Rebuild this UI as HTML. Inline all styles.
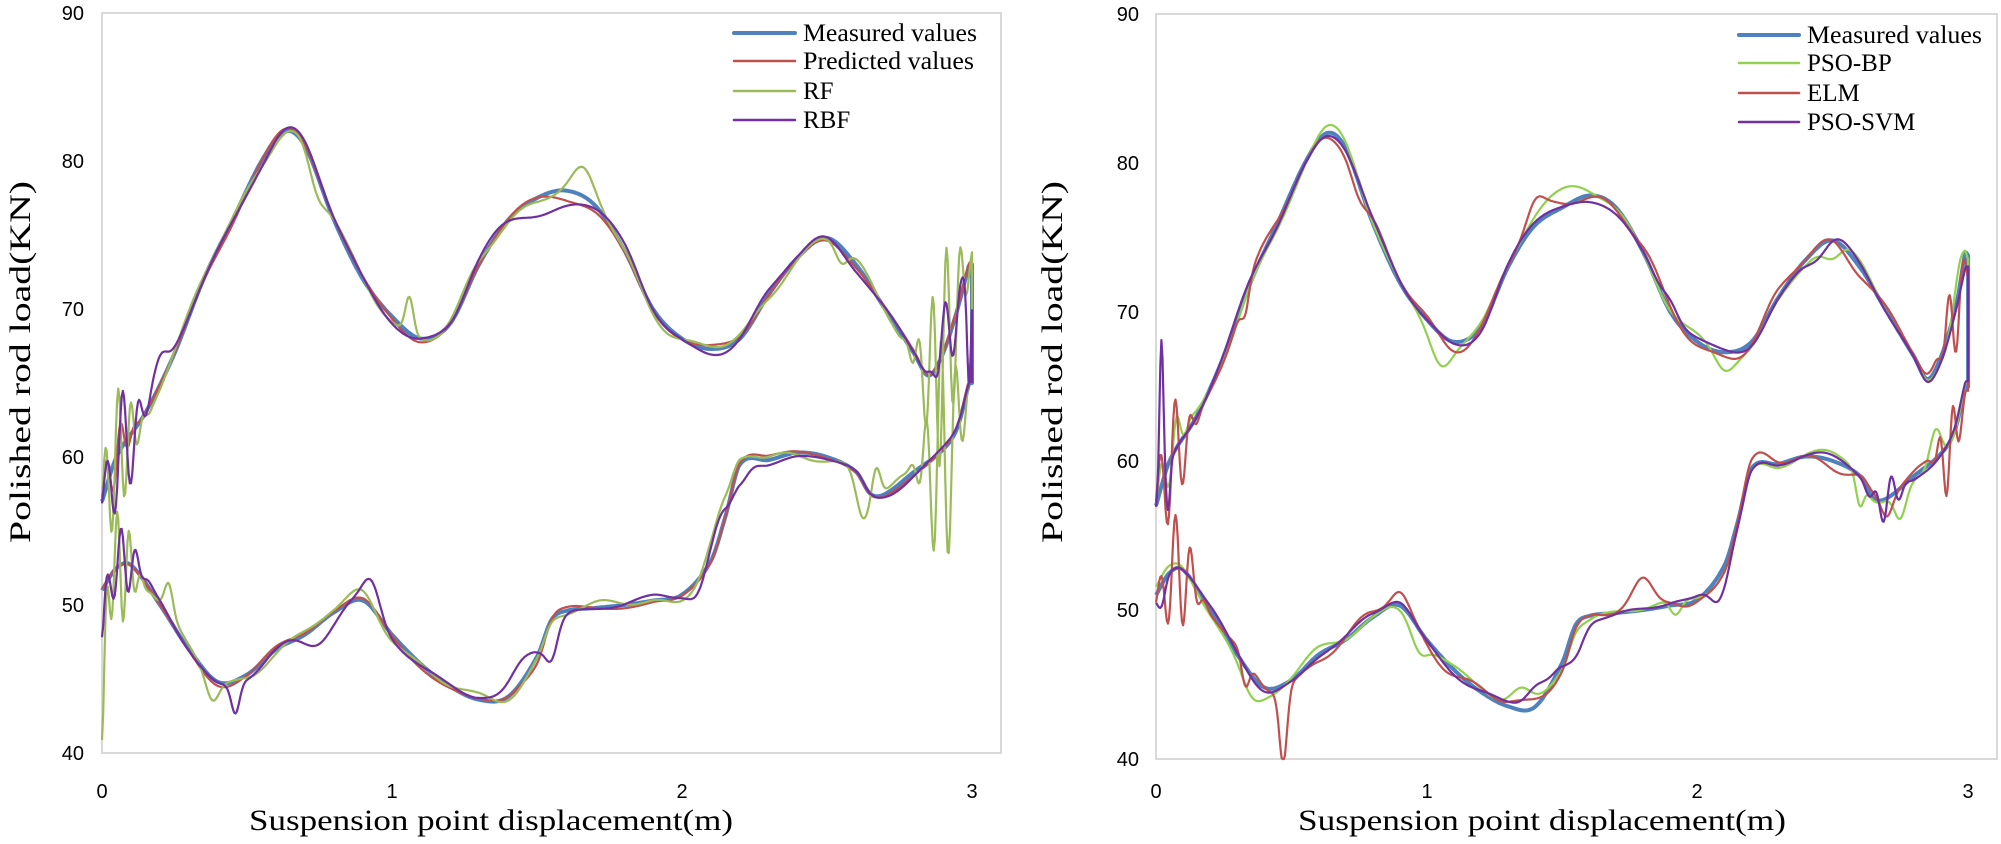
<!DOCTYPE html>
<html><head><meta charset="utf-8">
<style>
html,body{margin:0;padding:0;background:#fff;}
svg{display:block;}
.tk{font-family:"Liberation Sans",sans-serif;font-size:20px;fill:#000;}
.lg{font-family:"Liberation Serif",serif;font-size:25px;fill:#000;}
.ti{font-family:"Liberation Serif",serif;font-size:30px;fill:#000;}
</style></head>
<body>
<svg id="s" width="2001" height="844" viewBox="0 0 2001 844" xmlns="http://www.w3.org/2000/svg">
<rect width="2001" height="844" fill="#fff"/>
<!-- left frame -->
<rect x="102" y="13" width="899" height="740" fill="none" stroke="#d9d9d9" stroke-width="2"/>
<rect x="1156" y="14" width="841" height="745" fill="none" stroke="#d9d9d9" stroke-width="2"/>
<g class="tk" text-anchor="end">
<text x="84" y="20">90</text><text x="84" y="168">80</text><text x="84" y="316">70</text><text x="84" y="464">60</text><text x="84" y="612">50</text><text x="84" y="760">40</text>
<text x="1139" y="21">90</text><text x="1139" y="170">80</text><text x="1139" y="319">70</text><text x="1139" y="468">60</text><text x="1139" y="617">50</text><text x="1139" y="766">40</text>
</g>
<g class="tk" text-anchor="middle">
<text x="102" y="798">0</text><text x="392" y="798">1</text><text x="682" y="798">2</text><text x="972" y="798">3</text>
<text x="1156" y="798">0</text><text x="1427" y="798">1</text><text x="1697" y="798">2</text><text x="1968" y="798">3</text>
</g>
<text class="ti" x="491" y="830" text-anchor="middle" textLength="484" lengthAdjust="spacingAndGlyphs">Suspension point displacement(m)</text>
<text class="ti" x="1542" y="830" text-anchor="middle" textLength="488" lengthAdjust="spacingAndGlyphs">Suspension point displacement(m)</text>
<text class="ti" transform="translate(30,362) rotate(-90)" text-anchor="middle" textLength="362" lengthAdjust="spacingAndGlyphs">Polished rod load(KN)</text>
<text class="ti" transform="translate(1062,362) rotate(-90)" text-anchor="middle" textLength="362" lengthAdjust="spacingAndGlyphs">Polished rod load(KN)</text>
<g id="curves"></g>
<!-- legends -->
<g stroke-linecap="round">
<line x1="734" y1="33" x2="795" y2="33" stroke="#4f81bd" stroke-width="4"/>
<line x1="734" y1="61" x2="795" y2="61" stroke="#c0504d" stroke-width="2.5"/>
<line x1="734" y1="91" x2="795" y2="91" stroke="#9bbb59" stroke-width="2.5"/>
<line x1="734" y1="120" x2="795" y2="120" stroke="#7030a0" stroke-width="2.5"/>
<line x1="1739" y1="35" x2="1799" y2="35" stroke="#4f81bd" stroke-width="4"/>
<line x1="1739" y1="63" x2="1799" y2="63" stroke="#92d050" stroke-width="2.5"/>
<line x1="1739" y1="93" x2="1799" y2="93" stroke="#c0504d" stroke-width="2.5"/>
<line x1="1739" y1="122" x2="1799" y2="122" stroke="#7030a0" stroke-width="2.5"/>
</g>
<g class="lg">
<text x="803" y="41" textLength="174" lengthAdjust="spacingAndGlyphs">Measured values</text>
<text x="803" y="69" textLength="171" lengthAdjust="spacingAndGlyphs">Predicted values</text>
<text x="803" y="99">RF</text>
<text x="803" y="128">RBF</text>
<text x="1807" y="43" textLength="175" lengthAdjust="spacingAndGlyphs">Measured values</text>
<text x="1807" y="71">PSO-BP</text>
<text x="1807" y="101">ELM</text>
<text x="1807" y="130">PSO-SVM</text>
</g>
</svg>
<script>
(function(){
var UP=[[0,57],[0.05,60],[0.15,63],[0.25,67],[0.35,72],[0.45,76],[0.55,80],[0.63,82],[0.7,81],[0.8,76],[0.9,72],[1.0,69.5],[1.1,68],[1.2,69],[1.3,73],[1.4,76],[1.5,77.5],[1.6,78],[1.7,77],[1.8,74],[1.9,70],[2.0,68],[2.1,67.3],[2.2,68],[2.3,71],[2.4,73.5],[2.5,74.8],[2.6,73],[2.7,70],[2.8,67],[2.85,65.5],[2.9,67],[2.95,70],[2.99,73]];
var LO=[[0,51],[0.05,52.5],[0.1,52.7],[0.2,50],[0.3,47],[0.4,44.8],[0.5,45.3],[0.6,47],[0.7,48],[0.8,49.5],[0.9,50.3],[1.0,48],[1.1,46],[1.2,44.5],[1.3,43.6],[1.4,43.8],[1.5,46.5],[1.55,49],[1.6,49.6],[1.7,49.8],[1.8,50],[1.9,50.3],[2.0,50.7],[2.1,53],[2.15,56],[2.2,59.5],[2.3,59.8],[2.4,60.3],[2.5,60],[2.6,59],[2.65,57.5],[2.7,57.5],[2.8,59],[2.9,60.5],[2.95,62],[2.99,65]];
function interp(p,x){
  if(x<=p[0][0])return p[0][1];
  if(x>=p[p.length-1][0])return p[p.length-1][1];
  var i=0;while(p[i+1][0]<x)i++;
  var p0=p[Math.max(i-1,0)],p1=p[i],p2=p[i+1],p3=p[Math.min(i+2,p.length-1)];
  var t=(x-p1[0])/(p2[0]-p1[0]);
  var m1=(p2[1]-p0[1])/(p2[0]-p0[0]||1)*(p2[0]-p1[0]);
  var m2=(p3[1]-p1[1])/(p3[0]-p1[0]||1)*(p2[0]-p1[0]);
  var t2=t*t,t3=t2*t;
  return (2*t3-3*t2+1)*p1[1]+(t3-2*t2+t)*m1+(-2*t3+3*t2)*p2[1]+(t3-t2)*m2;
}
function g(x,c,w,a){return a*Math.exp(-Math.pow((x-c)/w,2));}
function nz(x,s,a,f){return a*(0.6*Math.sin(x*f+s)+0.4*Math.sin(x*f*2.3+s*1.7));}
function bs(x,c,w,a,f){return g(x,c,w,a)*Math.sin(x*f);}
function path(ax,upF,loF){
  var d="",x,v,st=0.004;
  function P(x,v){var px=ax.x0+x*ax.sx,py=ax.y0+(90-v)*ax.sy;py=Math.max(ax.y0,Math.min(ax.y0+50*ax.sy,py));return px.toFixed(1)+","+py.toFixed(1);}
  for(x=0;x<=3.0001;x+=st){v=interp(UP,x)+upF(x);d+=(d?"L":"M")+P(x,v);}
  for(x=3;x>=-0.0001;x-=st){v=interp(LO,x)+loF(x);d+="L"+P(x,v);}
  return d;
}
var L={x0:102,sx:290,y0:13,sy:14.8},R={x0:1156,sx:270.7,y0:14,sy:14.9};
var out="";
function add(ax,u,l,col,w){out+='<path d="'+path(ax,u,l)+'" fill="none" stroke="'+col+'" stroke-width="'+w+'" stroke-linejoin="round"/>';}
var Z=function(){return 0;};
// Left chart
add(L,Z,Z,"#4f81bd",4);
add(L,function(x){return nz(x,1,0.3,9)+bs(x,0.04,0.05,2,120)-g(x,1.6,0.1,0.7);},function(x){return nz(x,2,0.3,8)+g(x,1.5,0.05,-0.6);},"#c0504d",2.2);
add(L,function(x){return nz(x,3,0.5,14)+bs(x,0.05,0.06,4.5,140)+g(x,1.06,0.02,2.5)+g(x,1.66,0.05,1.5)-g(x,0.74,0.04,1.5)+bs(x,2.9,0.07,7,130)-g(x,2.55,0.03,1.2);},
        function(x){return nz(x,4,0.5,13)-g(x,0,0.012,10)+bs(x,0.06,0.05,4,150)+g(x,0.23,0.02,2)-g(x,0.38,0.03,1.5)+g(x,2.12,0.05,1.5)-g(x,2.62,0.03,2.5)+g(x,2.67,0.02,2)+bs(x,2.9,0.06,8,120)+g(x,0.9,0.05,0.5);},"#9bbb59",2.2);
add(L,function(x){return nz(x,5,0.5,12)+bs(x,0.07,0.06,4,110)+g(x,0.2,0.03,1.5)-g(x,1.55,0.1,1.2)+bs(x,2.92,0.04,3,100)-g(x,2.99,0.01,8);},
        function(x){return nz(x,6,0.4,11)+bs(x,0.07,0.05,2.5,120)+g(x,0.93,0.04,1.8)-g(x,0.46,0.02,2)+g(x,0.75,0.07,-1.5)+g(x,1.45,0.06,1.4)-g(x,1.55,0.03,2.5)-g(x,2.05,0.04,0.8)+g(x,2.12,0.04,1.5)-g(x,2.2,0.04,1.2)-g(x,2.4,0.1,0.6)-g(x,0,0.01,3);},"#7030a0",2.2);
// Right chart
add(R,function(x){return -g(x,1.5,0.1,0.5)+g(x,2.99,0.02,1);},function(x){return g(x,1.4,0.08,-0.3);},"#4f81bd",4);
add(R,function(x){return nz(x,7,0.6,10)+g(x,1.55,0.1,0.8)-g(x,1.05,0.05,1.5)-g(x,2.1,0.05,1.2)-g(x,2.5,0.05,1.5)+g(x,2.97,0.03,2.5)+bs(x,0.05,0.05,2,100);},
        function(x){return nz(x,8,0.6,10)-g(x,0.97,0.04,1)+g(x,1.35,0.05,1)-g(x,1.92,0.03,1.2)-g(x,2.6,0.02,2)-g(x,2.75,0.03,2)+g(x,2.88,0.03,2.5)-g(x,0.35,0.05,1.2);},"#92d050",2.2);
add(R,function(x){return nz(x,9,0.7,13)+bs(x,0.06,0.06,4,110)+g(x,0.75,0.04,-1)-g(x,0.33,0.02,1.5)+g(x,1.4,0.04,1)+bs(x,2.95,0.04,3,110);},
        function(x){return nz(x,10,0.7,13)+bs(x,0.08,0.06,4,110)-g(x,0.47,0.02,5)-g(x,0.33,0.02,2)+g(x,0.9,0.04,0.8)+g(x,1.8,0.05,1.5)+g(x,1.9,0.05,0.5)-g(x,2.7,0.03,1.5)+bs(x,2.93,0.04,3,120);},"#c0504d",2.2);
add(R,function(x){return nz(x,11,0.4,11)+g(x,0.02,0.01,10)-g(x,0.045,0.01,3)-g(x,1.55,0.1,0.8)+g(x,2.45,0.05,-0.7)+g(x,1.9,0.04,0.8);},
        function(x){return nz(x,12,0.4,11)-g(x,0.02,0.02,1.5)+g(x,0.9,0.05,0.3)+g(x,1.4,0.05,1)-g(x,1.55,0.04,2)-g(x,2.08,0.04,1.5)+bs(x,2.7,0.05,1.5,100);},"#7030a0",2.2);
document.getElementById("curves").innerHTML=out;
})();
</script>
</body></html>
